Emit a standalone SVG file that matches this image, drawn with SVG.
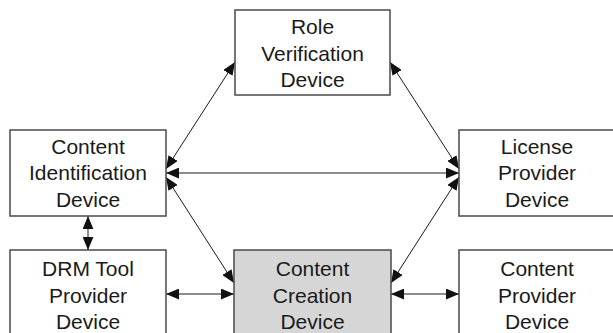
<svg xmlns="http://www.w3.org/2000/svg" width="613" height="333" viewBox="0 0 613 333">
  <style>
    .box { fill: #ffffff; stroke: #4a4a4a; stroke-width: 1.5; }
    .box.core { fill: #d6d6d6; }
    .label { font-family: "Liberation Sans", Arial, sans-serif; font-size: 21px; fill: #1a1a1a; text-anchor: middle; }
    .link { stroke: #1a1a1a; stroke-width: 1; fill: none; marker-start: url(#head); marker-end: url(#head); }
  </style>
  <defs>
    <marker id="head" viewBox="0 0 12 10" refX="12" refY="5" markerWidth="13" markerHeight="11" markerUnits="userSpaceOnUse" orient="auto-start-reverse">
      <path d="M0,0 L12,5 L0,10 Z" fill="#111111"/>
    </marker>
  </defs>

  <g id="connectors">
    <line class="link" x1="235" y1="62" x2="166" y2="169"/>
    <line class="link" x1="390" y1="62" x2="459" y2="169"/>
    <line class="link" x1="166" y1="173" x2="459" y2="173"/>
    <line class="link" x1="166" y1="177" x2="234" y2="283"/>
    <line class="link" x1="459" y1="177" x2="391" y2="283"/>
    <line class="link" x1="166" y1="294" x2="234" y2="294"/>
    <line class="link" x1="391" y1="294" x2="459" y2="294"/>
    <line class="link" x1="88" y1="216" x2="88" y2="250"/>
  </g>

  <g id="role-verification">
    <rect class="box" x="235" y="10" width="155" height="85"/>
    <text class="label" x="312.5" y="34">Role</text>
    <text class="label" x="312.5" y="61">Verification</text>
    <text class="label" x="312.5" y="87">Device</text>
  </g>

  <g id="content-identification">
    <rect class="box" x="10" y="130" width="156" height="86"/>
    <text class="label" x="88" y="154">Content</text>
    <text class="label" x="88" y="180">Identification</text>
    <text class="label" x="88" y="207">Device</text>
  </g>

  <g id="license-provider">
    <rect class="box" x="459" y="130" width="156" height="86"/>
    <text class="label" x="537" y="154">License</text>
    <text class="label" x="537" y="180">Provider</text>
    <text class="label" x="537" y="207">Device</text>
  </g>

  <g id="drm-tool-provider">
    <rect class="box" x="10" y="250" width="156" height="90"/>
    <text class="label" x="88" y="276">DRM Tool</text>
    <text class="label" x="88" y="303">Provider</text>
    <text class="label" x="88" y="329">Device</text>
  </g>

  <g id="content-creation">
    <rect class="box core" x="234" y="250" width="157" height="90"/>
    <text class="label" x="312.5" y="276">Content</text>
    <text class="label" x="312.5" y="303">Creation</text>
    <text class="label" x="312.5" y="329">Device</text>
  </g>

  <g id="content-provider">
    <rect class="box" x="459" y="250" width="156" height="90"/>
    <text class="label" x="537" y="276">Content</text>
    <text class="label" x="537" y="303">Provider</text>
    <text class="label" x="537" y="329">Device</text>
  </g>
</svg>
